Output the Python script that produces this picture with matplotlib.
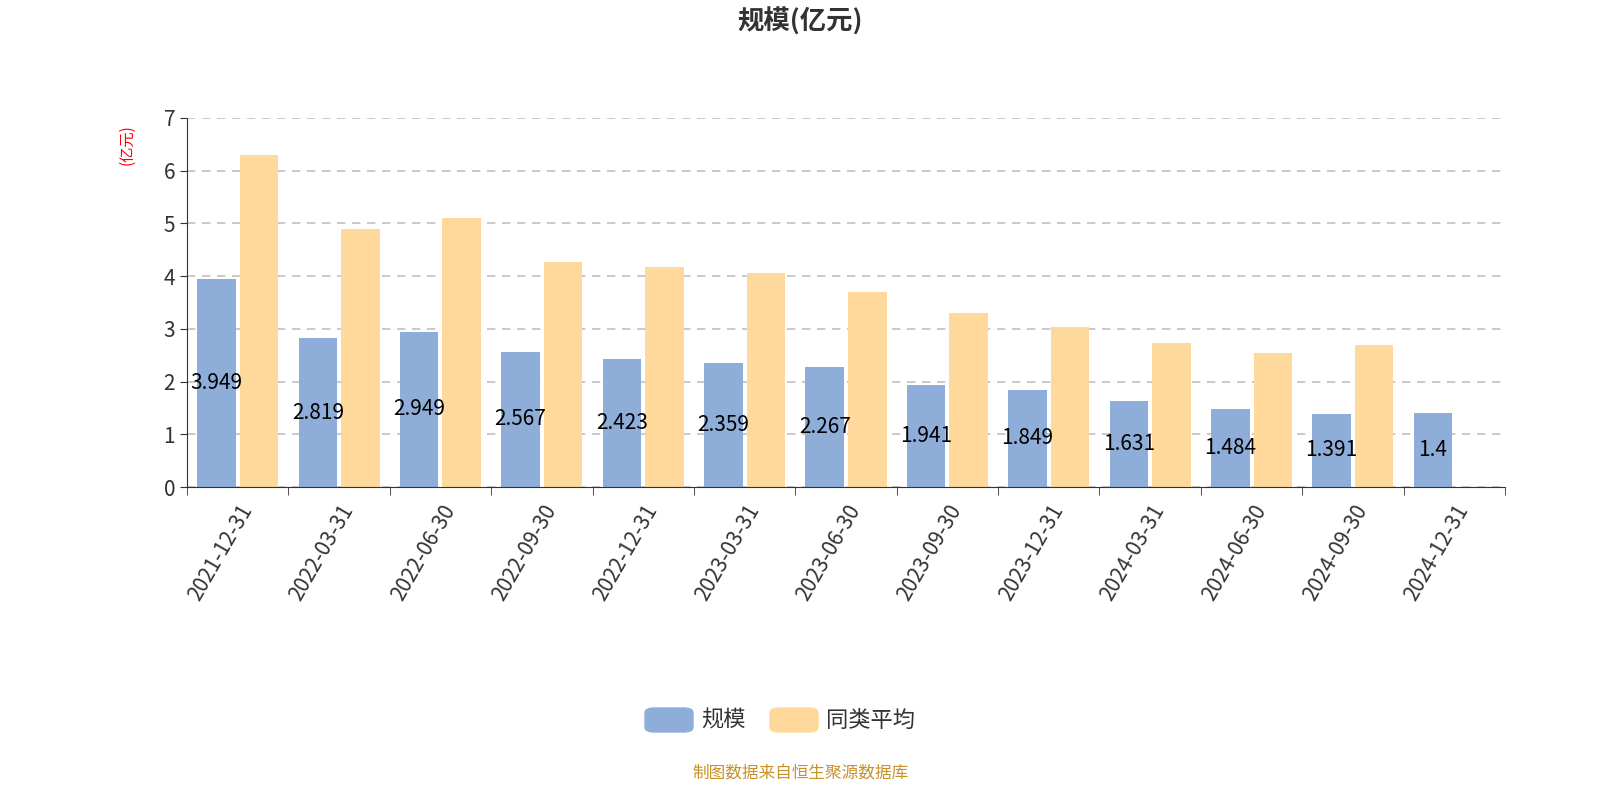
import matplotlib
matplotlib.use("Agg")
import matplotlib.pyplot as plt
from matplotlib import font_manager as fm
import numpy as np
from matplotlib.patches import FancyBboxPatch

cjk = None
for f in fm.findSystemFonts():
    if "CJK" in f or "cjk" in f.lower():
        try:
            fm.fontManager.addfont(f)
        except Exception:
            pass
names = sorted({f.name for f in fm.fontManager.ttflist if "CJK" in f.name})
fam = [n for n in ["Noto Sans CJK SC", "Noto Sans CJK JP"] if n in names] + names
plt.rcParams["font.family"] = fam[:1] + ["DejaVu Sans"] if fam else ["DejaVu Sans"]
plt.rcParams["axes.unicode_minus"] = False

dates = ["2021-12-31","2022-03-31","2022-06-30","2022-09-30","2022-12-31","2023-03-31",
         "2023-06-30","2023-09-30","2023-12-31","2024-03-31","2024-06-30","2024-09-30","2024-12-31"]
scale = [3.949,2.819,2.949,2.567,2.423,2.359,2.267,1.941,1.849,1.631,1.484,1.391,1.4]
avg = [6.3,4.9,5.1,4.26,4.18,4.06,3.7,3.3,3.03,2.73,2.55,2.69]
labels = ["3.949","2.819","2.949","2.567","2.423","2.359","2.267","1.941","1.849","1.631","1.484","1.391","1.4"]

fig = plt.figure(figsize=(16, 8), dpi=100)
ax = fig.add_axes([187/1600, 1-487/800, (1505-187)/1600, (487-118)/800])
x = np.arange(len(dates))
blue = "#8eadd9"; yellow = "#fed99b"
ax.bar(x - 0.21, scale, width=0.38, color=blue, zorder=2)
ax.bar(x[:len(avg)] + 0.21, avg, width=0.38, color=yellow, zorder=2)
for xi, v, l in zip(x, scale, labels):
    ax.text(xi - 0.21, v / 2, l, ha="center", va="center", fontsize=15, color="black", zorder=3)

ax.set_xlim(-0.5, 12.5)
ax.set_ylim(0, 7)
ax.set_yticks(range(8))
ax.yaxis.grid(True, linestyle=(0, (5, 4)), color="#c0c0c0", linewidth=1.2, zorder=0)
ax.set_xticks(x)
ax.set_xticklabels(dates, rotation=60, ha="right", rotation_mode="anchor", fontsize=15, color="#333333")
ax.tick_params(axis="x", length=0, pad=10)
ax.set_xticks(np.arange(-0.5, 13, 1), minor=True)
ax.tick_params(axis="x", which="minor", length=6, color="#333333")
ax.tick_params(axis="y", labelsize=15, labelcolor="#333333", length=5, color="#333333")
for s in ["top", "right"]:
    ax.spines[s].set_visible(False)
ax.spines["left"].set_color("#333333")
ax.spines["bottom"].set_color("#333333")

fig.text(127/1600, 1-145/800, "(亿元)", rotation=90, color="red", fontsize=11, ha="center", va="center")
fig.text(0.5, 1-22/800, "规模(亿元)", fontsize=19, fontweight="bold", color="#333333", ha="center", va="center")

for (x0, c, t) in [(645, blue, "规模"), (770, yellow, "同类平均")]:
    p = FancyBboxPatch((x0/1600, 1-732/800), 48/1600, 24/800, boxstyle="round,pad=0,rounding_size=0.006",
                       transform=fig.transFigure, color=c)
    fig.patches.append(p)
    fig.text((x0+56)/1600, 1-720/800, t, fontsize=16, color="#333333", va="center")

fig.text(0.5, 1-773/800, "制图数据来自恒生聚源数据库", fontsize=12, color="#c8922a", ha="center", va="center")
fig.savefig("out.png", dpi=100)
